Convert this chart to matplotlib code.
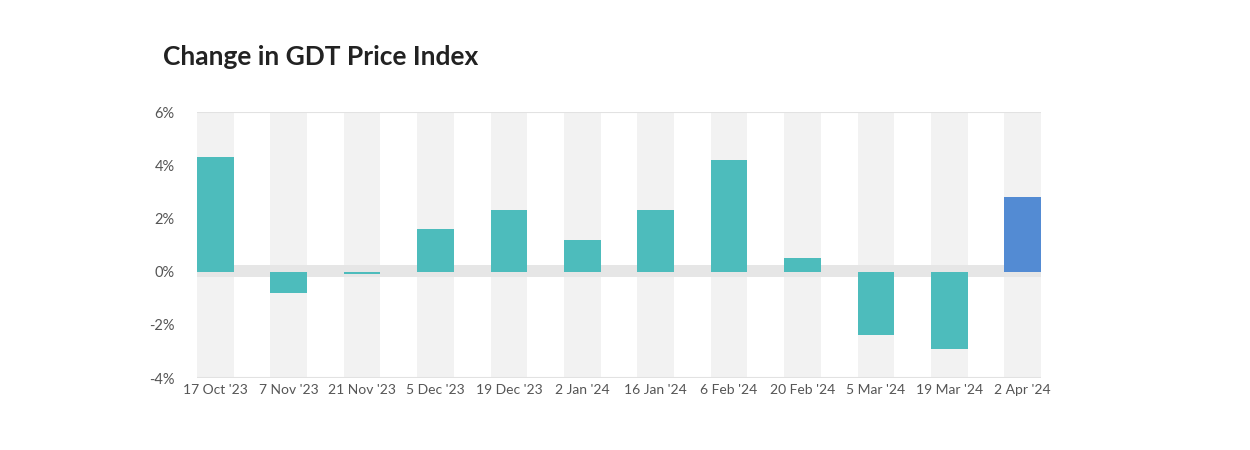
import numpy as np
import matplotlib
matplotlib.use("Agg")
import matplotlib.pyplot as plt
from matplotlib.ticker import FuncFormatter

dates = ["17 Oct '23", "7 Nov '23", "21 Nov '23", "5 Dec '23", "19 Dec '23", "2 Jan '24",
         "16 Jan '24", "6 Feb '24", "20 Feb '24", "5 Mar '24", "19 Mar '24", "2 Apr '24"]
change = [4.3, -0.8, -0.1, 1.6, 2.3, 1.2, 2.3, 4.2, 0.5, -2.4, -2.9, 2.8]
yticks = [-4, -2, 0, 2, 4, 6]

teal = "#4dbcbc"
blue = "#538bd3"
colors = [teal] * (len(change) - 1) + [blue]

plt.rcParams['font.family'] = ['Lato', 'DejaVu Sans']

fig = plt.figure(figsize=(12.5, 4.5), dpi=100)
ax = fig.add_axes([0.1576, 0.16, 0.6752, 0.5911])

x = np.arange(len(dates))
# light gray column behind each category
ax.bar(x, 10, bottom=-4, width=0.5, color="#f2f2f2", zorder=0)
# zero band
ax.axhspan(-0.22, 0.26, color="#e6e6e6", zorder=1, lw=0)
ax.bar(x, change, width=0.5, color=colors, zorder=3)

ax.axhline(6, color="#e2e2e2", lw=1.5, zorder=2)
ax.axhline(-4, color="#e2e2e2", lw=1.5, zorder=2)

ax.set_xlim(-0.25, len(dates) - 0.75)
ax.set_ylim(-4, 6)
ax.set_yticks(yticks)
ax.yaxis.set_major_formatter(FuncFormatter(lambda v, p: "%d%%" % v))
ax.set_xticks(x)
ax.set_xticklabels(dates)
ax.tick_params(axis='both', length=0, labelsize=10, colors="#555555")
ax.tick_params(axis='y', pad=16, labelsize=10.5)
ax.tick_params(axis='x', pad=4)
for s in ax.spines.values():
    s.set_visible(False)

fig.text(0.1304, 0.873, "Change in GDT Price Index", fontsize=19, fontweight='bold',
         color="#222222", va='center')

fig.savefig("out.png")
